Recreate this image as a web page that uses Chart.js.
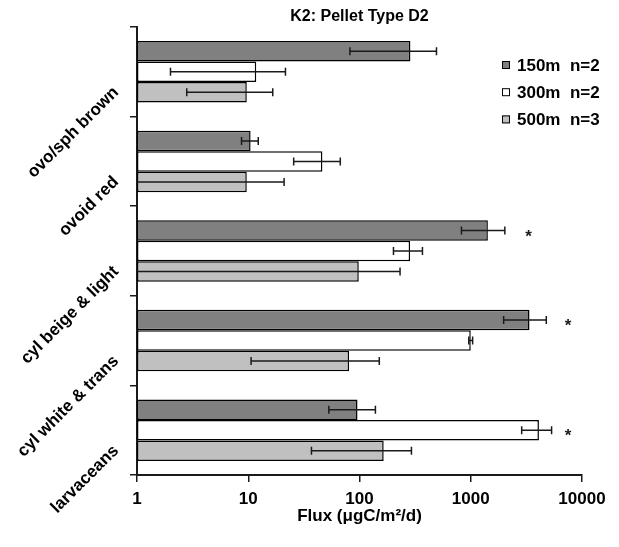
<!DOCTYPE html>
<html>
<head>
<meta charset="utf-8">
<script src="https://cdn.jsdelivr.net/npm/chart.js@4.4.1/dist/chart.umd.min.js"></script>
<style>
  html, body { margin: 0; padding: 0; background: #fff; }
  #wrap { width: 619px; height: 547px; }
</style>
</head>
<body>
<div id="wrap"><canvas id="c" width="619" height="547"></canvas></div>
<script>
// Pellet type D2 flux at station K2, by pellet class and trap depth
const categories = ['ovo/sph brown', 'ovoid red', 'cyl beige & light', 'cyl white & trans', 'larvaceans'];
const seriesLabels = ['150m  n=2', '300m  n=2', '500m  n=3'];

const flux150 = [287, 10.5, 1425, 3375, 96];
const err150  = [205, 1.8, 600, 1400, 43];
const flux300 = [11.8, 46.4, 285, 1000, 4100];
const err300  = [9.8, 20.8, 83, 40, 1230];
const flux500 = [9.7, 9.7, 98.5, 80.6, 165];
const err500  = [6.9, 11.3, 133, 70, 128];

const xTickValues = [1, 10, 100, 1000, 10000];

// significance markers: category index, series index, flux position of the asterisk
const starCategory = [2, 3, 4];
const starSeries   = [0, 0, 1];
const starFlux     = [3300, 7500, 7500];

const FONT = "'Liberation Sans', Arial, sans-serif";
const INK = '#1a1a1a';

const bgPlugin = {
  id: 'bg',
  beforeDraw(chart) {
    const { ctx, width, height } = chart;
    ctx.save();
    ctx.fillStyle = '#fff';
    ctx.fillRect(0, 0, width, height);
    ctx.restore();
  }
};

const errorBars = {
  id: 'errorBars',
  afterDatasetsDraw(chart) {
    const { ctx, chartArea } = chart;
    const x = chart.scales.x;
    ctx.save();
    ctx.strokeStyle = INK;
    ctx.lineWidth = 1.5;
    chart.data.datasets.forEach((ds, di) => {
      const meta = chart.getDatasetMeta(di);
      meta.data.forEach((bar, i) => {
        const v = ds.data[i], e = ds.errors[i];
        const hiPx = x.getPixelForValue(v + e);
        const lowVal = v - e;
        const hasLow = lowVal > x.min;
        const loPx = hasLow ? x.getPixelForValue(lowVal) : chartArea.left;
        const y = bar.y;
        ctx.beginPath();
        ctx.moveTo(loPx, y); ctx.lineTo(hiPx, y);
        ctx.moveTo(hiPx, y - 4); ctx.lineTo(hiPx, y + 4);
        if (hasLow) { ctx.moveTo(loPx, y - 4); ctx.lineTo(loPx, y + 4); }
        ctx.stroke();
      });
    });
    ctx.restore();
  }
};

const stars = {
  id: 'stars',
  afterDatasetsDraw(chart) {
    const { ctx } = chart;
    const x = chart.scales.x;
    ctx.save();
    ctx.fillStyle = INK;
    ctx.font = 'bold 17px ' + FONT;
    ctx.textAlign = 'center';
    ctx.textBaseline = 'alphabetic';
    starCategory.forEach((c, k) => {
      const bar = chart.getDatasetMeta(starSeries[k]).data[c];
      ctx.fillText('*', x.getPixelForValue(starFlux[k]), bar.y + 11);
    });
    ctx.restore();
  }
};

const titleAndLegend = {
  id: 'titleAndLegend',
  afterDraw(chart) {
    const { ctx, chartArea } = chart;
    ctx.save();
    ctx.fillStyle = '#000';
    ctx.font = 'bold 16px ' + FONT;
    ctx.textAlign = 'center';
    ctx.textBaseline = 'middle';
    ctx.fillText('K2: Pellet Type D2', (chartArea.left + chartArea.right) / 2, 17);

    ctx.font = 'bold 17px ' + FONT;
    ctx.textAlign = 'left';
    chart.data.datasets.forEach((ds, i) => {
      const y = chartArea.top + 38 + i * 27.2;
      const sx = chartArea.right - 80;
      ctx.fillStyle = ds.backgroundColor;
      ctx.fillRect(sx, y - 4, 8, 8);
      ctx.strokeStyle = '#000';
      ctx.lineWidth = 1;
      ctx.strokeRect(sx + 0.5, y - 3.5, 7, 7);
      ctx.fillStyle = '#000';
      ctx.fillText(ds.label, sx + 15, y + 1);
    });
    ctx.restore();
  }
};

const fills = ['#808080', '#ffffff', '#c0c0c0'];
const values = [flux150, flux300, flux500];
const errors = [err150, err300, err500];

new Chart(document.getElementById('c'), {
  type: 'bar',
  data: {
    labels: categories,
    datasets: seriesLabels.map((label, i) => ({
      label,
      data: values[i],
      errors: errors[i],
      backgroundColor: fills[i],
      borderColor: '#000',
      borderWidth: 1.5,
      borderSkipped: false,
      categoryPercentage: 0.686,
      barPercentage: 1.0
    }))
  },
  options: {
    indexAxis: 'y',
    responsive: false,
    animation: false,
    events: [],
    layout: { padding: { left: 0, top: 27, right: 37, bottom: 0 } },
    plugins: {
      legend: { display: false },
      title: { display: false },
      tooltip: { enabled: false }
    },
    scales: {
      x: {
        type: 'logarithmic',
        min: 1,
        max: 10000,
        afterBuildTicks(scale) {
          scale.ticks = xTickValues.map(v => ({ value: v }));
        },
        afterFit(scale) { scale.height = 72; },
        ticks: {
          callback: (v) => String(v),
          color: '#000',
          padding: 7,
          font: { family: FONT, size: 17, weight: 'bold' },
          maxRotation: 0,
          autoSkip: false
        },
        grid: {
          drawOnChartArea: false,
          drawTicks: true,
          tickLength: 7,
          color: INK,
          lineWidth: 1.5
        },
        border: { color: INK, width: 2 },
        title: {
          display: true,
          text: 'Flux (\u03bcgC/m\u00b2/d)',
          color: '#000',
          font: { family: FONT, size: 17, weight: 'bold' },
          padding: { top: 0, bottom: 20 }
        }
      },
      y: {
        afterFit(scale) { scale.width = 137; },
        ticks: {
          color: '#000',
          minRotation: 45,
          maxRotation: 45,
          padding: 14,
          labelOffset: 18,
          autoSkip: false,
          font: { family: FONT, size: 17, weight: 'bold' }
        },
        grid: {
          drawOnChartArea: false,
          drawTicks: true,
          tickLength: 7,
          color: INK,
          lineWidth: 1.5,
          offset: true
        },
        border: { color: INK, width: 2 }
      }
    }
  },
  plugins: [bgPlugin, errorBars, stars, titleAndLegend]
});
</script>
</body>
</html>
